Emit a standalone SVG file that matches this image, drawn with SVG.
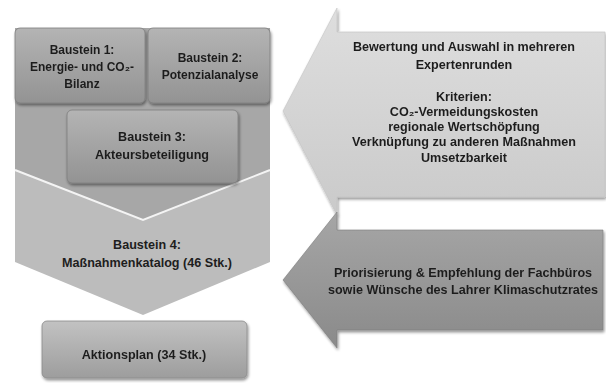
<svg xmlns="http://www.w3.org/2000/svg" width="606" height="383" viewBox="0 0 606 383">
<defs>
<linearGradient id="gBox" x1="0" y1="0" x2="0" y2="1">
<stop offset="0" stop-color="#b4b4b4"/>
<stop offset="1" stop-color="#939393"/>
</linearGradient>
<linearGradient id="gLight" x1="0" y1="0" x2="0" y2="1">
<stop offset="0" stop-color="#dedede"/>
<stop offset="1" stop-color="#cacaca"/>
</linearGradient>
<linearGradient id="gDark" x1="0" y1="0" x2="0" y2="1">
<stop offset="0" stop-color="#a6a6a6"/>
<stop offset="1" stop-color="#8a8a8a"/>
</linearGradient>
<linearGradient id="gAkt" x1="0" y1="0" x2="0" y2="1">
<stop offset="0" stop-color="#c2c2c2"/>
<stop offset="1" stop-color="#9d9d9d"/>
</linearGradient>
<filter id="sh" x="-10%" y="-10%" width="130%" height="130%">
<feGaussianBlur in="SourceAlpha" stdDeviation="1.5"/>
<feOffset dx="1" dy="2" result="b"/>
<feComponentTransfer><feFuncA type="linear" slope="0.45"/></feComponentTransfer>
<feMerge><feMergeNode/><feMergeNode in="SourceGraphic"/></feMerge>
</filter>
</defs>
<style>
text{font-family:"Liberation Sans",Arial,sans-serif;font-weight:bold;fill:#1e1e1e;text-anchor:middle}
.s{font-size:12px}
.m{font-size:12.6px}
.box{fill:url(#gBox);stroke:#7e7e7e;stroke-width:0.8}
</style>
<rect width="606" height="383" fill="#ffffff"/>
<g id="funnel">
<polygon points="15,28 270,28 270,262 143,315 15,262" fill="#bcbcbc"/>
<polygon points="15,28 270,28 270,170 143,220 15,170" fill="#a7a7a7"/>
<polyline points="15,170 143,220 270,170" fill="none" stroke="#f4f4f4" stroke-width="2"/>
</g>
<g id="baustein1" filter="url(#sh)">
<rect class="box" x="15" y="28" width="130" height="75" rx="5"/>
<text class="s" x="82" y="54">Baustein 1:</text>
<text class="s" x="82" y="71">Energie- und CO₂-</text>
<text class="s" x="82" y="88">Bilanz</text>
</g>
<g id="baustein2" filter="url(#sh)">
<rect class="box" x="148" y="28" width="122" height="75" rx="5"/>
<text class="s" x="210" y="62">Baustein 2:</text>
<text class="s" x="210" y="79">Potenzialanalyse</text>
</g>
<g id="baustein3" filter="url(#sh)">
<rect class="box" x="67" y="110" width="171" height="73" rx="5"/>
<text class="m" x="152" y="141">Baustein 3:</text>
<text class="m" x="152" y="159">Akteursbeteiligung</text>
</g>
<g id="baustein4">
<text class="m" x="147" y="249">Baustein 4:</text>
<text class="m" x="147" y="267">Maßnahmenkatalog (46 Stk.)</text>
</g>
<g id="aktionsplan" filter="url(#sh)">
<rect x="42" y="321" width="205" height="57" rx="5" fill="url(#gAkt)" stroke="#8a8a8a" stroke-width="0.8"/>
<text class="m" x="144" y="359">Aktionsplan (34 Stk.)</text>
</g>
<g id="connectors">
<g id="bewertung" filter="url(#sh)">
<polygon points="605,32 337,32 337,8 283,111 337,215 337,197 605,197" fill="url(#gLight)" stroke="#c4c4c4" stroke-width="0.6"/>
<text class="m" x="464" y="51">Bewertung und Auswahl in mehreren</text>
<text class="m" x="464" y="69">Expertenrunden</text>
<text class="m" x="464" y="101">Kriterien:</text>
<text class="m" x="464" y="116">CO₂-Vermeidungskosten</text>
<text class="m" x="464" y="131">regionale Wertschöpfung</text>
<text class="m" x="464" y="146">Verknüpfung zu anderen Maßnahmen</text>
<text class="m" x="464" y="162">Umsetzbarkeit</text>
</g>
<g id="priorisierung" filter="url(#sh)">
<polygon points="603,230 337,230 337,212 283,280 337,348 337,330 603,330" fill="url(#gDark)" stroke="#7c7c7c" stroke-width="0.6"/>
<text class="m" x="463" y="277">Priorisierung &amp; Empfehlung der Fachbüros</text>
<text class="m" x="463" y="294">sowie Wünsche des Lahrer Klimaschutzrates</text>
</g>
</g>
</svg>
